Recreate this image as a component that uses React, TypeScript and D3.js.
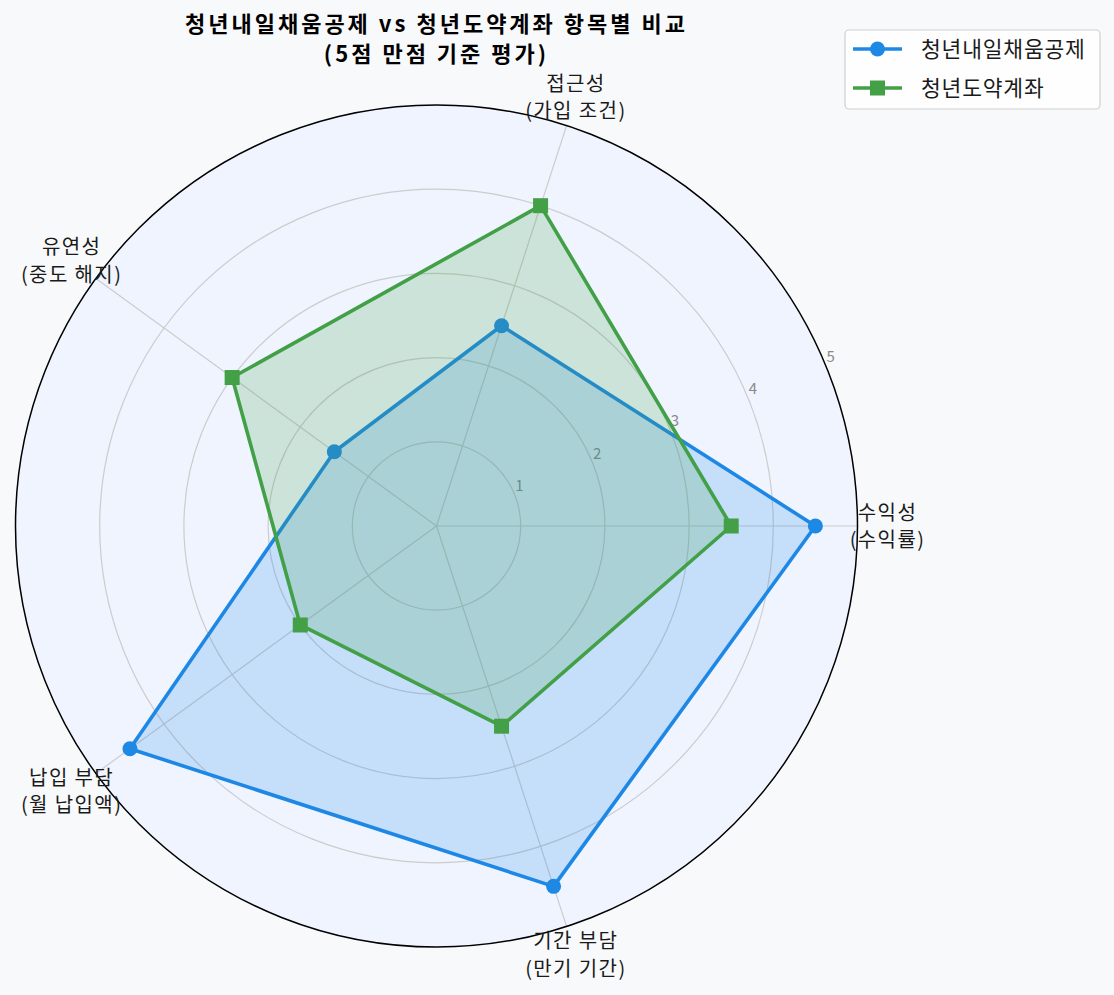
import React, { useEffect } from "react";
import * as d3 from "d3";

const categories = [
  ["수익성", "(수익률)"],
  ["접근성", "(가입 조건)"],
  ["유연성", "(중도 해지)"],
  ["납입 부담", "(월 납입액)"],
  ["기간 부담", "(만기 기간)"],
];
const seriesNames = ["청년내일채움공제", "청년도약계좌"];
const naeilValues = [4.5, 2.5, 1.5, 4.5, 4.5];
const doyakValues = [3.5, 4, 3, 2, 2.5];
const radialTicks = [1, 2, 3, 4, 5];
const titleLines = ["청년내일채움공제 vs 청년도약계좌 항목별 비교", "(5점 만점 기준 평가)"];
const colors = ["#1e88e5", "#43a047"];

const W = 1114;
const H = 995;
const cx = 436.5;
const cy = 526;
const R = 421;
const font = "'Noto Sans CJK KR', 'Noto Sans', sans-serif";

const App = () => {
  useEffect(() => {
    document.body.style.margin = "0";
    document.body.style.background = "#f8f9fa";
  }, []);

  const r = d3.scaleLinear().domain([0, 5]).range([0, R]);
  // matplotlib angle (ccw from east) for each category
  const theta = d3
    .scaleLinear()
    .domain([0, categories.length])
    .range([0, 2 * Math.PI]);
  const pt = (i: number, v: number) => [
    cx + r(v) * Math.cos(theta(i)),
    cy - r(v) * Math.sin(theta(i)),
  ];
  const radial = d3
    .lineRadial<number>()
    .angle((d, i) => Math.PI / 2 - theta(i))
    .radius((d) => r(d))
    .curve(d3.curveLinearClosed);

  const series = [naeilValues, doyakValues];
  const labAngle = (22.5 * Math.PI) / 180;

  return (
    <svg width={W} height={H} style={{ display: "block", background: "#f8f9fa" }}>
      <circle cx={cx} cy={cy} r={R} fill="#eff4ff" />
      {/* grid */}
      {radialTicks.slice(0, -1).map((t) => (
        <circle key={t} cx={cx} cy={cy} r={r(t)} fill="none" stroke="#cccccc" strokeWidth={1.2} />
      ))}
      {categories.map((c, i) => {
        const [x, y] = pt(i, 5);
        return <line key={i} x1={cx} y1={cy} x2={x} y2={y} stroke="#cccccc" strokeWidth={1.2} />;
      })}
      {radialTicks.map((t) => (
        <text
          key={t}
          x={cx + r(t) * Math.cos(labAngle) + 1}
          y={cy - r(t) * Math.sin(labAngle) - 3}
          fontFamily={font}
          fontSize={15}
          fill="#8a8a8a"
        >
          {t}
        </text>
      ))}
      {/* data */}
      {series.map((vals, s) => (
        <g key={s} transform={`translate(${cx},${cy})`}>
          <path d={radial(vals) as string} fill="none" stroke={colors[s]} strokeWidth={3.6} strokeLinejoin="round" />
          <path d={radial(vals) as string} fill={colors[s]} fillOpacity={0.2} />
          {vals.map((v, i) => {
            const [x, y] = pt(i, v);
            return s === 0 ? (
              <circle key={i} cx={x - cx} cy={y - cy} r={7.5} fill={colors[s]} />
            ) : (
              <rect key={i} x={x - cx - 7.5} y={y - cy - 7.5} width={15} height={15} fill={colors[s]} />
            );
          })}
        </g>
      ))}
      <circle cx={cx} cy={cy} r={R} fill="none" stroke="#000" strokeWidth={1.5} />
      {/* category labels */}
      {categories.map((c, i) => {
        const x = cx + (R + 30) * Math.cos(theta(i));
        const y = cy - (R + 30) * Math.sin(theta(i));
        return (
          <text key={i} x={x} y={y} textAnchor="middle" fontFamily={font} fontSize={20} letterSpacing={1.4} fill="#1a1a1a">
            <tspan x={x} dy={-6.5}>{c[0]}</tspan>
            <tspan x={x} dy={27.5}>{c[1]}</tspan>
          </text>
        );
      })}
      {/* title */}
      <text textAnchor="middle" fontFamily={font} fontSize={22} fontWeight="bold" letterSpacing={3} fill="#000">
        {titleLines.map((t, i) => (
          <tspan key={i} x={cx} y={32 + i * 30}>
            {t}
          </tspan>
        ))}
      </text>
      {/* legend */}
      <g>
        <rect x={845} y={30} width={255} height={79} rx={4} fill="#ffffff" fillOpacity={0.85} stroke="#cfcfcf" strokeWidth={1.2} />
        {seriesNames.map((n, s) => {
          const y = 49 + s * 39;
          return (
            <g key={n}>
              <line x1={853} x2={902} y1={y} y2={y} stroke={colors[s]} strokeWidth={3.6} />
              {s === 0 ? (
                <circle cx={877.5} cy={y} r={7.5} fill={colors[s]} />
              ) : (
                <rect x={870} y={y - 7.5} width={15} height={15} fill={colors[s]} />
              )}
              <text x={921} y={y + 8} fontFamily={font} fontSize={21.5} letterSpacing={0.8} fill="#1a1a1a">
                {n}
              </text>
            </g>
          );
        })}
      </g>
    </svg>
  );
};

export default App;
